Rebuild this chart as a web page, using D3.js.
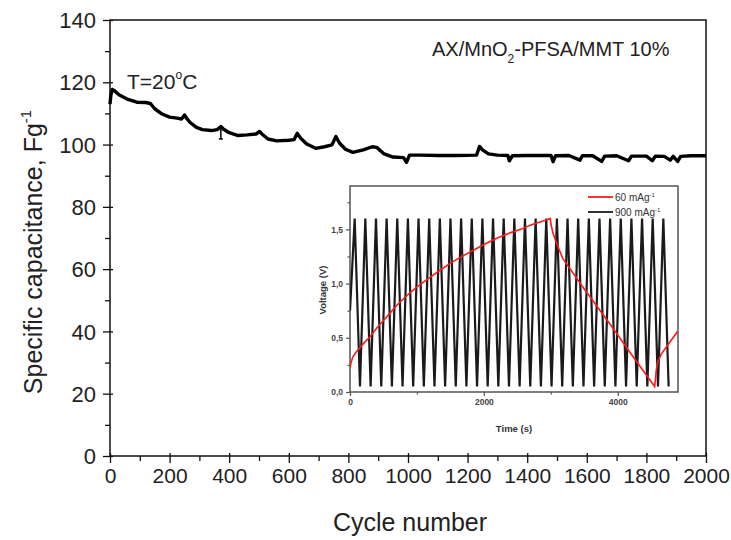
<!DOCTYPE html>
<html><head><meta charset="utf-8">
<script src="https://cdn.jsdelivr.net/npm/d3@7/dist/d3.min.js"></script>
<style>body{margin:0;background:#fff}svg{display:block}text{font-family:"Liberation Sans",Arial,sans-serif}</style>
</head><body><svg id="c" width="731" height="540"></svg>
<script>
// Main series: cycle number vs specific capacitance (F/g)
const cycles = [0,3,8,15,30,60,90,120,135,150,175,200,225,240,250,258,270,290,310,340,360,372,380,400,430,460,490,502,510,530,560,600,618,628,640,660,690,720,745,758,770,790,815,850,880,895,920,950,985,995,1005,1040,1100,1160,1230,1240,1250,1270,1300,1335,1340,1350,1400,1480,1487,1495,1540,1577,1585,1620,1650,1660,1700,1740,1750,1800,1820,1830,1860,1880,1890,1905,1915,1950,2000];
const capacitance = [113,116,117.7,117.3,116,114.5,113.6,113.5,113.2,111.5,109.8,108.8,108.5,108.2,109.5,108.3,107,105.5,104.8,104.5,104.8,105.8,105,103.8,102.9,103.1,103.4,104.2,103.4,101.8,101.2,101.4,101.6,103.6,102,100.2,98.8,99.3,99.9,102.6,100.5,98.5,97.5,98.3,99.3,99.1,97,96,95.8,94.3,96.6,96.6,96.5,96.5,96.6,99.4,98.3,97,96.6,96.5,94.8,96.4,96.5,96.5,94.5,96.4,96.5,95,96.4,96.4,94.6,96.3,96.4,94.8,96.3,96.3,94.8,96.3,96.2,95,96.2,94.6,96.2,96.4,96.4];
const outlierCycle = [372];
const outlierValue = [101.8];
const xTicks = [0,200,400,600,800,1000,1200,1400,1600,1800,2000];
const yTicks = [0,20,40,60,80,100,120,140];

// Inset: 60 mA/g charge-discharge
const redTime = [0,15,40,80,150,220,300,400,500,600,700,850,1000,1180,1360,1530,1700,1850,2000,2200,2400,2550,2700,2850,2993,3005,3030,3070,3120,3180,3500,3881,4200,4552,4575,4600,4650,4731,4895];
const redVolt = [0.22,0.27,0.32,0.36,0.41,0.46,0.51,0.59,0.66,0.73,0.8,0.89,0.97,1.05,1.13,1.2,1.26,1.31,1.36,1.42,1.47,1.5,1.54,1.57,1.6,1.54,1.47,1.4,1.32,1.23,0.95,0.63,0.35,0.05,0.2,0.28,0.35,0.42,0.56];
// Inset: 900 mA/g charge-discharge
const blackTime = [0,70,149,229,308,388,467,547,626,706,785,865,944,1024,1103,1183,1262,1342,1421,1501,1580,1660,1739,1819,1898,1978,2057,2137,2216,2296,2375,2455,2534,2614,2693,2773,2852,2932,3011,3091,3170,3250,3329,3409,3488,3568,3647,3727,3806,3886,3965,4045,4124,4204,4283,4363,4442,4522,4601,4681,4760];
const blackVolt = [0.75,1.6,0.05,1.6,0.05,1.6,0.05,1.6,0.05,1.6,0.05,1.6,0.05,1.6,0.05,1.6,0.05,1.6,0.05,1.6,0.05,1.6,0.05,1.6,0.05,1.6,0.05,1.6,0.05,1.6,0.05,1.6,0.05,1.6,0.05,1.6,0.05,1.6,0.05,1.6,0.05,1.6,0.05,1.6,0.05,1.6,0.05,1.6,0.05,1.6,0.05,1.6,0.05,1.6,0.05,1.6,0.05,1.6,0.05,1.6,0.05];
const insetXTicks = [0,2000,4000];
const insetXMinor = [1000,3000];
const insetYTicks = [0,0.5,1.0,1.5];
const insetYLabels = ["0,0","0,5","1,0","1,5"];
const insetYMinor = [0.25,0.75,1.25,1.75];

const svg = d3.select("#c");
const L=110,R=706,T=20,B=456;
const x = d3.scaleLinear().domain([0,2000]).range([L,R]);
const y = d3.scaleLinear().domain([0,140]).range([B,T]);

// frame
svg.append("rect").attr("x",L).attr("y",T).attr("width",R-L).attr("height",B-T)
  .attr("fill","none").attr("stroke","#111").attr("stroke-width",1.5);

// x axis
const gx = svg.append("g").attr("transform",`translate(0,${B})`)
  .call(d3.axisBottom(x).tickValues(xTicks).tickSize(7).tickSizeOuter(0).tickPadding(5).tickFormat(d3.format("d")));
gx.select(".domain").remove();
gx.selectAll(".tick line").attr("y1",-3).attr("stroke","#111").attr("stroke-width",1.3);
gx.selectAll("text").attr("font-size",21).attr("fill","#222");
svg.append("g").attr("transform",`translate(0,${B})`)
  .call(d3.axisBottom(x).tickValues(d3.range(100,2000,200)).tickSize(5).tickFormat(""))
  .call(g=>g.select(".domain").remove())
  .selectAll("line").attr("stroke","#111").attr("stroke-width",1.3);

// y axis
const gy = svg.append("g").attr("transform",`translate(${L},0)`)
  .call(d3.axisLeft(y).tickValues(yTicks).tickSize(7).tickSizeOuter(0).tickPadding(7));
gy.select(".domain").remove();
gy.selectAll(".tick line").attr("x1",3).attr("stroke","#111").attr("stroke-width",1.3);
gy.selectAll("text").attr("font-size",22).attr("fill","#222").attr("dy","0.35em");
svg.append("g").attr("transform",`translate(${L},0)`)
  .call(d3.axisLeft(y).tickValues(d3.range(10,140,20)).tickSize(5).tickFormat(""))
  .call(g=>g.select(".domain").remove())
  .selectAll("line").attr("stroke","#111").attr("stroke-width",1.3);

// axis titles
svg.append("text").attr("x",410).attr("y",531).attr("text-anchor","middle")
  .attr("font-size",25).attr("fill","#222").text("Cycle number");
const yt = svg.append("text").attr("transform","translate(42,252) rotate(-90)")
  .attr("text-anchor","middle").attr("font-size",25).attr("fill","#222");
yt.append("tspan").text("Specific capacitance, Fg");
yt.append("tspan").attr("dy",-11).attr("font-size",15).text("-1");

// main curve
const mainData = cycles.map((c,i)=>[c,capacitance[i]]);
svg.append("path").datum(mainData)
  .attr("d",d3.line().x(d=>x(d[0])).y(d=>y(d[1])))
  .attr("fill","none").attr("stroke","#000").attr("stroke-width",3.4).attr("stroke-linejoin","round");
outlierCycle.forEach((c,i)=>{
  svg.append("line").attr("x1",x(c)).attr("x2",x(c)).attr("y1",y(105)).attr("y2",y(outlierValue[i]))
    .attr("stroke","#000").attr("stroke-width",1.5);
  svg.append("line").attr("x1",x(c)-2).attr("x2",x(c)+2).attr("y1",y(outlierValue[i])).attr("y2",y(outlierValue[i]))
    .attr("stroke","#000").attr("stroke-width",1.5);
});

// annotations
const t1 = svg.append("text").attr("x",127).attr("y",89).attr("font-size",21).attr("fill","#222");
t1.append("tspan").text("T=20");
t1.append("tspan").attr("dy",-10).attr("font-size",12).text("o");
t1.append("tspan").attr("dy",10).text("C");
const t2 = svg.append("text").attr("x",432).attr("y",56).attr("font-size",20).attr("fill","#222");
t2.append("tspan").text("AX/MnO");
t2.append("tspan").attr("dy",7).attr("font-size",12).text("2");
t2.append("tspan").attr("dy",-7).text("-PFSA/MMT 10%");

// ---------- inset ----------
const IL=350,IR=678,IT=186,IB=392;
const ix = d3.scaleLinear().domain([0,4900]).range([IL,IR]);
const iy = d3.scaleLinear().domain([0,1.9]).range([IB,IT]);
const inset = svg.append("g");
inset.append("rect").attr("x",IL).attr("y",IT).attr("width",IR-IL).attr("height",IB-IT)
  .attr("fill","#fff").attr("stroke","#555").attr("stroke-width",1.5);
const clipId="iclip";
svg.append("clipPath").attr("id",clipId).append("rect").attr("x",IL).attr("y",IT).attr("width",IR-IL).attr("height",IB-IT);

const blackData = blackTime.map((t,i)=>[t,blackVolt[i]]);
inset.append("path").datum(blackData).attr("clip-path",`url(#${clipId})`)
  .attr("d",d3.line().x(d=>ix(d[0])).y(d=>iy(d[1])))
  .attr("fill","none").attr("stroke","#1a1a1a").attr("stroke-width",2.2).attr("stroke-linejoin","miter");
const redData = redTime.map((t,i)=>[t,redVolt[i]]);
inset.append("path").datum(redData).attr("clip-path",`url(#${clipId})`)
  .attr("d",d3.line().x(d=>ix(d[0])).y(d=>iy(d[1])))
  .attr("fill","none").attr("stroke","#ff1a1a").attr("stroke-width",1.6);

const igx = inset.append("g").attr("transform",`translate(0,${IB})`)
  .call(d3.axisBottom(ix).tickValues(insetXTicks).tickSize(4).tickSizeOuter(0).tickPadding(3).tickFormat(d3.format("d")));
igx.select(".domain").remove();
igx.selectAll("line").attr("stroke","#555").attr("stroke-width",1.2);
igx.selectAll("text").attr("font-size",8.5).attr("font-weight","bold").attr("fill","#444");
inset.append("g").attr("transform",`translate(0,${IB})`)
  .call(d3.axisBottom(ix).tickValues(insetXMinor).tickSize(2.5).tickFormat(""))
  .call(g=>g.select(".domain").remove())
  .selectAll("line").attr("stroke","#555").attr("stroke-width",1.2);
const igy = inset.append("g").attr("transform",`translate(${IL},0)`)
  .call(d3.axisLeft(iy).tickValues(insetYTicks).tickSize(4).tickSizeOuter(0).tickPadding(3)
    .tickFormat((d,i)=>insetYLabels[i]));
igy.select(".domain").remove();
igy.selectAll("line").attr("stroke","#555").attr("stroke-width",1.2);
igy.selectAll("text").attr("font-size",8.5).attr("font-weight","bold").attr("fill","#444");
inset.append("g").attr("transform",`translate(${IL},0)`)
  .call(d3.axisLeft(iy).tickValues(insetYMinor).tickSize(2.5).tickFormat(""))
  .call(g=>g.select(".domain").remove())
  .selectAll("line").attr("stroke","#555").attr("stroke-width",1.2);

inset.append("text").attr("x",514).attr("y",432).attr("text-anchor","middle")
  .attr("font-size",9.5).attr("font-weight","bold").attr("fill","#333").text("Time (s)");
inset.append("text").attr("transform","translate(326,290) rotate(-90)").attr("text-anchor","middle")
  .attr("font-size",9.5).attr("font-weight","bold").attr("fill","#333").text("Voltage (V)");

// legend
const leg = [["60 mAg","#ff1a1a",197],["900 mAg","#1a1a1a",212]];
leg.forEach(([lab,col,yy])=>{
  inset.append("line").attr("x1",588).attr("x2",613).attr("y1",yy).attr("y2",yy)
    .attr("stroke",col).attr("stroke-width",1.8);
  const tt = inset.append("text").attr("x",615).attr("y",yy+3.5).attr("font-size",10).attr("fill","#333");
  tt.append("tspan").text(lab);
  tt.append("tspan").attr("dy",-4).attr("font-size",6).text("-1");
});
</script></body></html>
